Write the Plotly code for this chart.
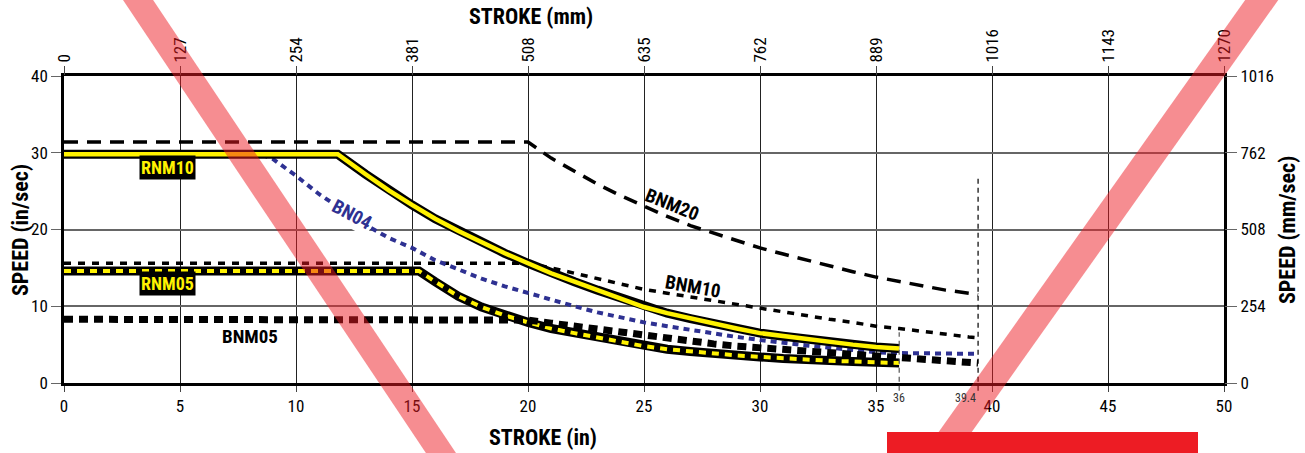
import plotly.graph_objects as go

# ---------------- data ----------------
# stroke in inches, speed in in/sec
rnm10_x = [0, 11.8, 13, 14, 15, 16, 17, 18, 19, 20, 21, 22, 23, 24, 25, 26, 27, 28, 29, 30, 31, 32, 33, 34, 35, 36]
rnm10_y = [29.8, 29.8, 27.2, 25.1, 23.2, 21.4, 19.8, 18.3, 16.9, 15.6, 14.3, 13.2, 12.1, 11.0, 9.9, 9.1, 8.4, 7.7, 7.1, 6.5, 6.1, 5.7, 5.3, 5.0, 4.7, 4.5]

rnm05_x = [0, 15.3, 16, 17, 18, 19, 20, 21, 22, 23, 24, 25, 26, 27, 28, 29, 30, 31, 32, 33, 34, 35, 36]
rnm05_y = [14.6, 14.6, 13.2, 11.3, 9.9, 8.8, 7.9, 7.1, 6.5, 5.9, 5.3, 4.8, 4.4, 4.1, 3.8, 3.6, 3.4, 3.2, 3.0, 2.9, 2.8, 2.7, 2.6]

bnm20_x = [0, 20, 21, 22, 23, 24, 25, 26, 27, 28, 29, 30, 31, 32, 33, 34, 35, 36, 37, 38, 39, 39.4]
bnm20_y = [31.4, 31.4, 29.3, 27.6, 25.9, 24.4, 23.0, 21.7, 20.5, 19.5, 18.5, 17.6, 16.8, 16.0, 15.2, 14.5, 13.8, 13.2, 12.6, 12.1, 11.7, 11.5]

bnm10_x = [0, 20, 21, 22, 23, 24, 25, 26, 27, 28, 29, 30, 31, 32, 33, 34, 35, 36, 37, 38, 39, 39.4]
bnm10_y = [15.6, 15.6, 15.0, 14.3, 13.6, 12.9, 12.2, 11.7, 11.2, 10.7, 10.2, 9.8, 9.3, 8.8, 8.3, 7.9, 7.4, 7.1, 6.7, 6.3, 6.0, 5.9]

bn04_x = [0, 8.5, 9, 10, 11, 12, 13, 14, 15, 16, 17, 18, 19, 20, 21, 22, 23, 24, 25, 26, 27, 28, 29, 30, 31, 32, 33, 34, 35, 36, 37, 38, 39.4]
bn04_y = [29.8, 29.8, 29.2, 27.0, 24.6, 22.6, 20.6, 18.9, 17.6, 16.0, 14.8, 13.6, 12.6, 11.7, 10.8, 10.0, 9.2, 8.5, 7.9, 7.4, 6.9, 6.4, 6.0, 5.6, 5.2, 4.9, 4.6, 4.3, 4.0, 3.9, 3.85, 3.8, 3.8]

bnm05_x = [0, 19.5, 20, 21, 22, 23, 24, 25, 26, 27, 28, 29, 30, 31, 32, 33, 34, 35, 36, 37, 38, 39, 39.4]
bnm05_y = [8.3, 8.3, 8.2, 7.8, 7.4, 6.9, 6.5, 6.1, 5.7, 5.4, 5.1, 4.8, 4.6, 4.4, 4.1, 3.9, 3.7, 3.5, 3.2, 3.0, 2.8, 2.65, 2.6]

# max-stroke markers
limit_strokes = [36, 39.4]
limit_tops = [6.6, 26.7]
limit_labels = ["36", "39.4"]

# axis ticks
in_ticks = [0, 5, 10, 15, 20, 25, 30, 35, 40, 45, 50]
mm_ticks = [0, 127, 254, 381, 508, 635, 762, 889, 1016, 1143, 1270]
speed_ticks = [0, 10, 20, 30, 40]
speed_mm_ticks = [0, 254, 508, 762, 1016]

FONT = "Liberation Sans Narrow, Arial Narrow, Roboto Condensed, sans-serif"
NAVY = "#2e3192"
YEL = "#fff200"

fig = go.Figure()

def add(x, y, color, width, dash=None):
    fig.add_trace(go.Scatter(x=x, y=y, mode="lines", showlegend=False, hoverinfo="skip",
                             line=dict(color=color, width=width, dash=dash)))

add(bnm20_x, bnm20_y, "black", 3.5, "14px,9px")
add(bnm10_x, bnm10_y, "black", 3.5, "7px,7px")
add(bn04_x, bn04_y, NAVY, 4, "6px,5px")
add(rnm05_x, rnm05_y, "black", 9)
add(rnm05_x, rnm05_y, YEL, 4, "7px,6px")
add(bnm05_x, bnm05_y, "black", 7, "9px,6px")
add(rnm10_x, rnm10_y, "black", 9)
add(rnm10_x, rnm10_y, YEL, 4.5)

# invisible trace for the secondary (metric) axes
fig.add_trace(go.Scatter(x=[mm_ticks[0], mm_ticks[-1]], y=[speed_mm_ticks[0], speed_mm_ticks[-1]],
                         xaxis="x2", yaxis="y2", mode="lines", line=dict(width=0),
                         opacity=0, showlegend=False, hoverinfo="skip"))

shapes = []
# stroke limit markers (dashed verticals)
for s, top, col in zip(limit_strokes, limit_tops, ["#555555", "black"]):
    shapes.append(dict(type="line", xref="x", yref="paper", x0=s, x1=s,
                       y0=-0.025, y1=top / speed_ticks[-1],
                       line=dict(color=col, width=1.2, dash="5px,4px")))

# decorative overlay (red X and bar)
W, H = 1160.0, 307.0
def px(x):
    return (x - 64) / W
def py(y):
    return (383 - y) / H
band = "rgba(237,28,36,0.5)"
shapes.append(dict(type="line", xref="paper", yref="paper", x0=px(118), y0=py(-30), x1=px(461), y1=py(483),
                   line=dict(color=band, width=25)))
shapes.append(dict(type="line", xref="paper", yref="paper", x0=px(1283), y0=py(-30), x1=px(919), y1=py(483),
                   line=dict(color=band, width=27)))
shapes.append(dict(type="rect", xref="paper", yref="paper", x0=px(887), x1=px(1198), y0=py(460), y1=py(432),
                   line=dict(width=0), fillcolor="#ed1c24"))

annotations = []
def lab(text, x, y, color="black", angle=0, size=18, bg=None):
    annotations.append(dict(text=f"<b>{text}</b>", x=x, y=y, xref="x", yref="y", showarrow=False,
                            textangle=angle, font=dict(family=FONT, size=size, color=color),
                            bgcolor=bg, borderpad=1))

lab("RNM10", 4.48, 28.1, YEL, 0, 18, "black")
lab("RNM05", 4.48, 12.9, YEL, 0, 18, "black")
lab("BNM05", 8.0, 6.0, "black", 0, 19)
lab("BN04", 12.4, 21.9, NAVY, 28, 19, "white")
lab("BNM20", 26.2, 23.2, "black", 22, 19)
lab("BNM10", 27.1, 12.6, "black", 10, 19)

for s, t in zip(limit_strokes, limit_labels):
    annotations.append(dict(text=t, x=s, y=-0.02, xref="x", yref="paper", showarrow=False,
                            xanchor="center" if t == "36" else "right", yanchor="top",
                            font=dict(family=FONT, size=12, color="#333")))

def title(text, x, y, angle=0):
    annotations.append(dict(text=f"<b>{text}</b>", x=x, y=y, xref="paper", yref="paper", showarrow=False,
                            textangle=angle, xanchor="center", yanchor="middle",
                            font=dict(family=FONT, size=22, color="black")))

title("STROKE (mm)", px(531), py(17))
title("STROKE (in)", px(543), py(437))
title("SPEED (in/sec)", px(20), py(230), -90)
title("SPEED (mm/sec)", px(1287), py(230), -90)

tickfont = dict(family=FONT, size=17, color="black")
fig.update_layout(
    width=1305, height=453,
    margin=dict(l=64, r=81, t=76, b=70),
    paper_bgcolor="white", plot_bgcolor="white",
    showlegend=False,
    shapes=shapes, annotations=annotations,
    xaxis=dict(range=[in_ticks[0], in_ticks[-1]], tickvals=in_ticks, showgrid=True, gridcolor="#222",
               gridwidth=1, zeroline=False, showline=True, linecolor="black", linewidth=2.5,
               mirror=True, ticks="outside", ticklen=6, tickcolor="#444", tickfont=tickfont),
    yaxis=dict(range=[speed_ticks[0], speed_ticks[-1]], tickvals=speed_ticks, showgrid=True,
               gridcolor="#666", gridwidth=1.5, zeroline=False, showline=True, linecolor="black",
               linewidth=2.5, mirror=True, ticks="outside", ticklen=10, tickcolor="#666",
               tickfont=tickfont),
    xaxis2=dict(range=[mm_ticks[0], mm_ticks[-1]], tickvals=mm_ticks, overlaying="x", side="top",
                showgrid=False, zeroline=False, ticks="outside", ticklen=9, tickcolor="#444",
                tickangle=-90, tickfont=tickfont),
    yaxis2=dict(range=[speed_mm_ticks[0], speed_mm_ticks[-1]], tickvals=speed_mm_ticks, overlaying="y",
                side="right", showgrid=False, zeroline=False, ticks="outside", ticklen=12,
                tickcolor="#666", tickfont=tickfont),
)

fig.write_html("out.html", config={"displayModeBar": False},
               post_script="document.body.style.margin='0';document.body.style.overflow='hidden';")
